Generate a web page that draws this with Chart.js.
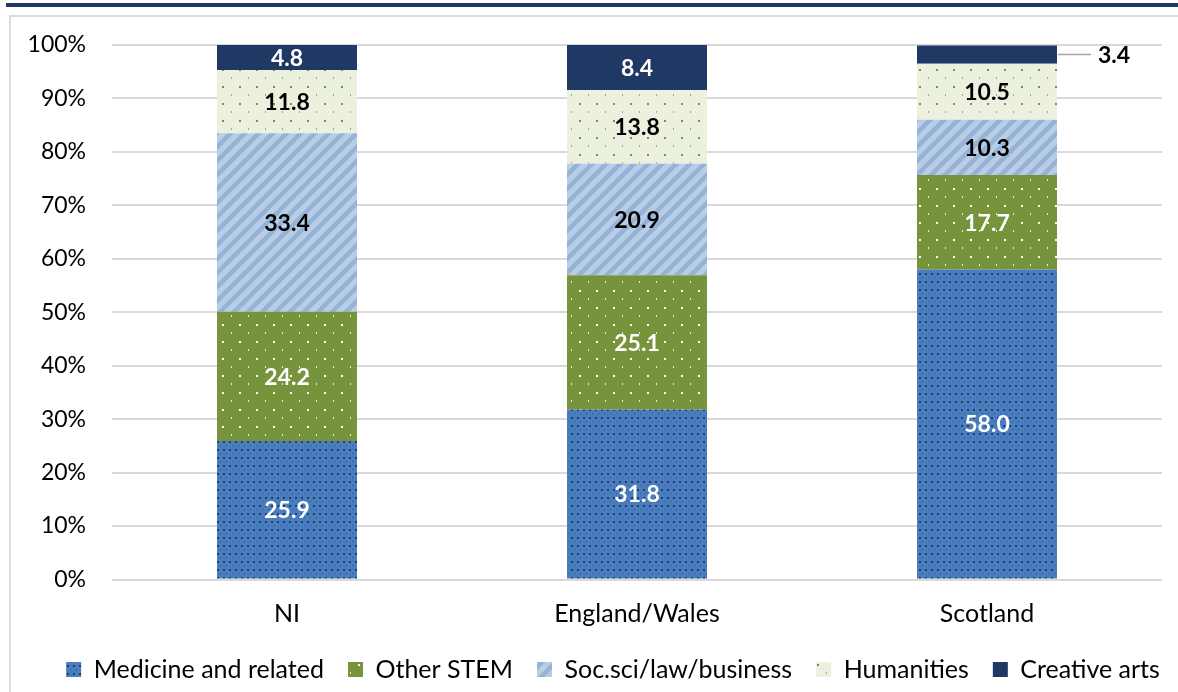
<!DOCTYPE html>
<html><head><meta charset="utf-8">
<script src="https://cdn.jsdelivr.net/npm/chart.js@4/dist/chart.umd.min.js"></script>
<style>
html,body{margin:0;padding:0;background:#fff;}
#wrap{position:relative;width:1178px;height:692px;overflow:hidden;background:#fff;}
#topbar{position:absolute;left:6px;top:3px;width:1172px;height:4px;background:#1f3864;}
#frame{position:absolute;left:9px;top:15px;width:1200px;height:700px;border-left:2px solid #dcdcdc;border-top:2px solid #dcdcdc;}
canvas{position:absolute;left:0;top:0;}
</style></head>
<body><div id="wrap"><div id="topbar"></div><div id="frame"></div><canvas id="c" width="1178" height="692"></canvas></div>
<script>
const categories = ['NI', 'England/Wales', 'Scotland'];
const seriesNames = ['Medicine and related', 'Other STEM', 'Soc.sci/law/business', 'Humanities', 'Creative arts'];
const medicine = [25.9, 31.8, 58.0];
const otherStem = [24.2, 25.1, 17.7];
const socSci = [33.4, 20.9, 10.3];
const humanities = [11.8, 13.8, 10.5];
const creativeArts = [4.8, 8.4, 3.4];
const yTickValues = [0, 10, 20, 30, 40, 50, 60, 70, 80, 90, 100];

function makeTile(w, h, draw) {
  const t = document.createElement('canvas');
  t.width = w; t.height = h;
  const c = t.getContext('2d');
  draw(c, w, h);
  return document.getElementById('c').getContext('2d').createPattern(t, 'repeat');
}
const patMedicine = makeTile(6, 8, (c, w, h) => {
  c.fillStyle = '#4a7dbd'; c.fillRect(0, 0, w, h);
  c.fillStyle = '#1f3d70';
  c.fillRect(1, 1, 2, 2);
  c.fillStyle = '#2b4f86';
  c.fillRect(4, 5, 1, 1);
});
const patStem = makeTile(17, 17, (c, w, h) => {
  c.fillStyle = '#77933c'; c.fillRect(0, 0, w, h);
  c.fillStyle = '#ffffff';
  c.fillRect(1, 1, 2, 2);
  c.fillStyle = '#e8eedc';
  c.fillRect(10, 9, 1, 2);
});
const patSoc = makeTile(14, 14, (c, w, h) => {
  c.fillStyle = '#b9cde5'; c.fillRect(0, 0, w, h);
  c.strokeStyle = '#95b3d7'; c.lineWidth = 4.5;
  for (let k = -1; k <= 1; k++) {
    c.beginPath(); c.moveTo(k * w - 1, h + 1); c.lineTo(k * w + w + 1, -1); c.stroke();
  }
});
const patHum = makeTile(17, 17, (c, w, h) => {
  c.fillStyle = '#ebf1de'; c.fillRect(0, 0, w, h);
  c.fillStyle = '#77933c';
  c.fillRect(1, 1, 2, 2);
  c.fillStyle = '#9ab06a';
  c.fillRect(10, 9, 1, 2);
});

const valueLabels = {
  id: 'valueLabels',
  afterLayout(chart) {
    chart.legend.left += 32;
    chart.legend.right += 32;
  },
  afterDatasetsDraw(chart) {
    const ctx = chart.ctx;
    ctx.save();
    ctx.font = 'bold 23px Lato';
    ctx.textBaseline = 'middle';
    chart.data.datasets.forEach((ds, di) => {
      const meta = chart.getDatasetMeta(di);
      meta.data.forEach((bar, i) => {
        const v = ds.data[i];
        const yc = (bar.y + bar.base) / 2;
        const h = Math.abs(bar.base - bar.y);
        const txt = v.toFixed(1);
        if (h < 20) {
          const x0 = bar.x + bar.width / 2;
          ctx.strokeStyle = '#a6a6a6'; ctx.lineWidth = 1.5;
          ctx.beginPath(); ctx.moveTo(x0 + 1, yc); ctx.lineTo(x0 + 34, yc); ctx.stroke();
          ctx.fillStyle = '#000'; ctx.textAlign = 'left';
          ctx.fillText(txt, x0 + 41, yc + 1);
        } else {
          ctx.fillStyle = ds.labelColor; ctx.textAlign = 'center';
          ctx.fillText(txt, bar.x, yc + 1);
        }
      });
    });
    ctx.restore();
  }
};

const seriesValues = [medicine, otherStem, socSci, humanities, creativeArts];
const fills = [patMedicine, patStem, patSoc, patHum, '#203864'];
const labelColors = ['#ffffff', '#ffffff', '#000000', '#000000', '#ffffff'];

new Chart(document.getElementById('c'), {
  type: 'bar',
  data: {
    labels: categories,
    datasets: seriesNames.map((n, k) => ({
      label: n,
      data: seriesValues[k],
      backgroundColor: fills[k],
      borderWidth: 0,
      labelColor: labelColors[k],
      barPercentage: 0.4,
      categoryPercentage: 1.0
    }))
  },
  options: {
    responsive: false,
    animation: false,
    devicePixelRatio: 1,
    layout: { padding: { left: 0, right: 16, top: 45, bottom: 0 } },
    plugins: {
      tooltip: { enabled: false },
      legend: {
        position: 'bottom',
        labels: { font: { family: 'Lato', size: 25 }, color: '#000', boxWidth: 15, boxHeight: 15, padding: 24 }
      }
    },
    scales: {
      x: {
        stacked: true,
        grid: { display: false },
        border: { display: false },
        ticks: { font: { family: 'Lato', size: 25 }, color: '#000', padding: 11 },
        afterFit(s) { s.height = 53.5; }
      },
      y: {
        stacked: true,
        min: 0, max: 100,
        afterBuildTicks(s) { s.ticks = yTickValues.map(v => ({ value: v })); },
        grid: { color: '#d9d9d9', lineWidth: 2, drawTicks: false },
        border: { display: false },
        ticks: { font: { family: 'Lato', size: 23 }, color: '#000', padding: 26, callback: v => v + '%' },
        afterFit(s) { s.width = 112; }
      }
    }
  },
  plugins: [valueLabels]
});
</script>
</body></html>
